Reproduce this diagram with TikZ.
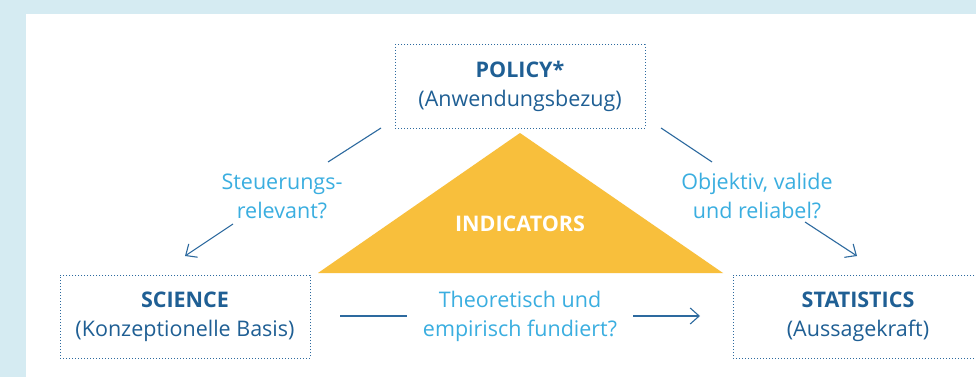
\documentclass[tikz,border=0pt]{standalone}
\usepackage{fontspec}
\setmainfont{Open Sans}
\usetikzlibrary{arrows.meta}
\definecolor{bgblue}{HTML}{D5EBF2}
\definecolor{linecol}{HTML}{2D6A9F}
\definecolor{boxtext}{HTML}{1F5F94}
\definecolor{asktext}{HTML}{3AAEE0}
\definecolor{tricol}{HTML}{F8BF3C}

\begin{document}
\begin{tikzpicture}[x=1pt,y=-1pt,
    box/.style={draw=linecol,dotted,line width=1pt,minimum width=250pt,minimum height=83pt,
      align=center,text=boxtext,font=\fontsize{21.5}{29}\selectfont},
    ask/.style={align=center,text=asktext,font=\fontsize{21.5}{29}\selectfont},
    conn/.style={draw=linecol,line width=1.1pt},
    tip/.style={-{Straight Barb[length=9pt,width=16pt]}}]
  \useasboundingbox (0,0) rectangle (976,377);
  \clip (0,0) rectangle (976,377);
  \fill[bgblue] (0,0) rectangle (976,377);
  \fill[white] (26,14) rectangle (990,390);

  % triangle in the middle
  \fill[tricol] (520,133) -- (723,273) -- (318,273) -- cycle;
  \node[text=white,font=\fontsize{21.5}{29}\selectfont\bfseries] (ind) at (520,224) {INDICATORS};

  % the three corners
  \node[box] (policy) at (520,86.5) {\textbf{POLICY*}\\(Anwendungsbezug)};
  \node[box] (science) at (185,316.5) {\textbf{SCIENCE}\\(Konzeptionelle Basis)};
  \node[box] (stats) at (858,316.5) {\textbf{STATISTICS}\\(Aussagekraft)};

  % questions
  \node[ask] (steer) at (282,196) {Steuerungs-\\relevant?};
  \node[ask] (objekt) at (757,196) {Objektiv, valide\\und reliabel?};
  \node[ask] (theor) at (520,316) {Theoretisch und\\empirisch fundiert?};

  \coordinate (l1) at (381,128);
  \coordinate (l2) at (328,162);
  \coordinate (l3) at (233,224);
  \coordinate (l4) at (185,256);
  \coordinate (r1) at (661,128);
  \coordinate (r2) at (712,162);
  \coordinate (r3) at (805,222);
  \coordinate (r4) at (857,256);
  \coordinate (b1) at (340,316);
  \coordinate (b2) at (407,316);
  \coordinate (b3) at (633,316);
  \coordinate (b4) at (700,316);

  \draw[conn] (l1) -- (l2);
  \draw[conn,tip] (l3) -- (l4);
  \draw[conn] (r1) -- (r2);
  \draw[conn,tip] (r3) -- (r4);
  \draw[conn] (b1) -- (b2);
  \draw[conn,tip] (b3) -- (b4);
\end{tikzpicture}
\end{document}
